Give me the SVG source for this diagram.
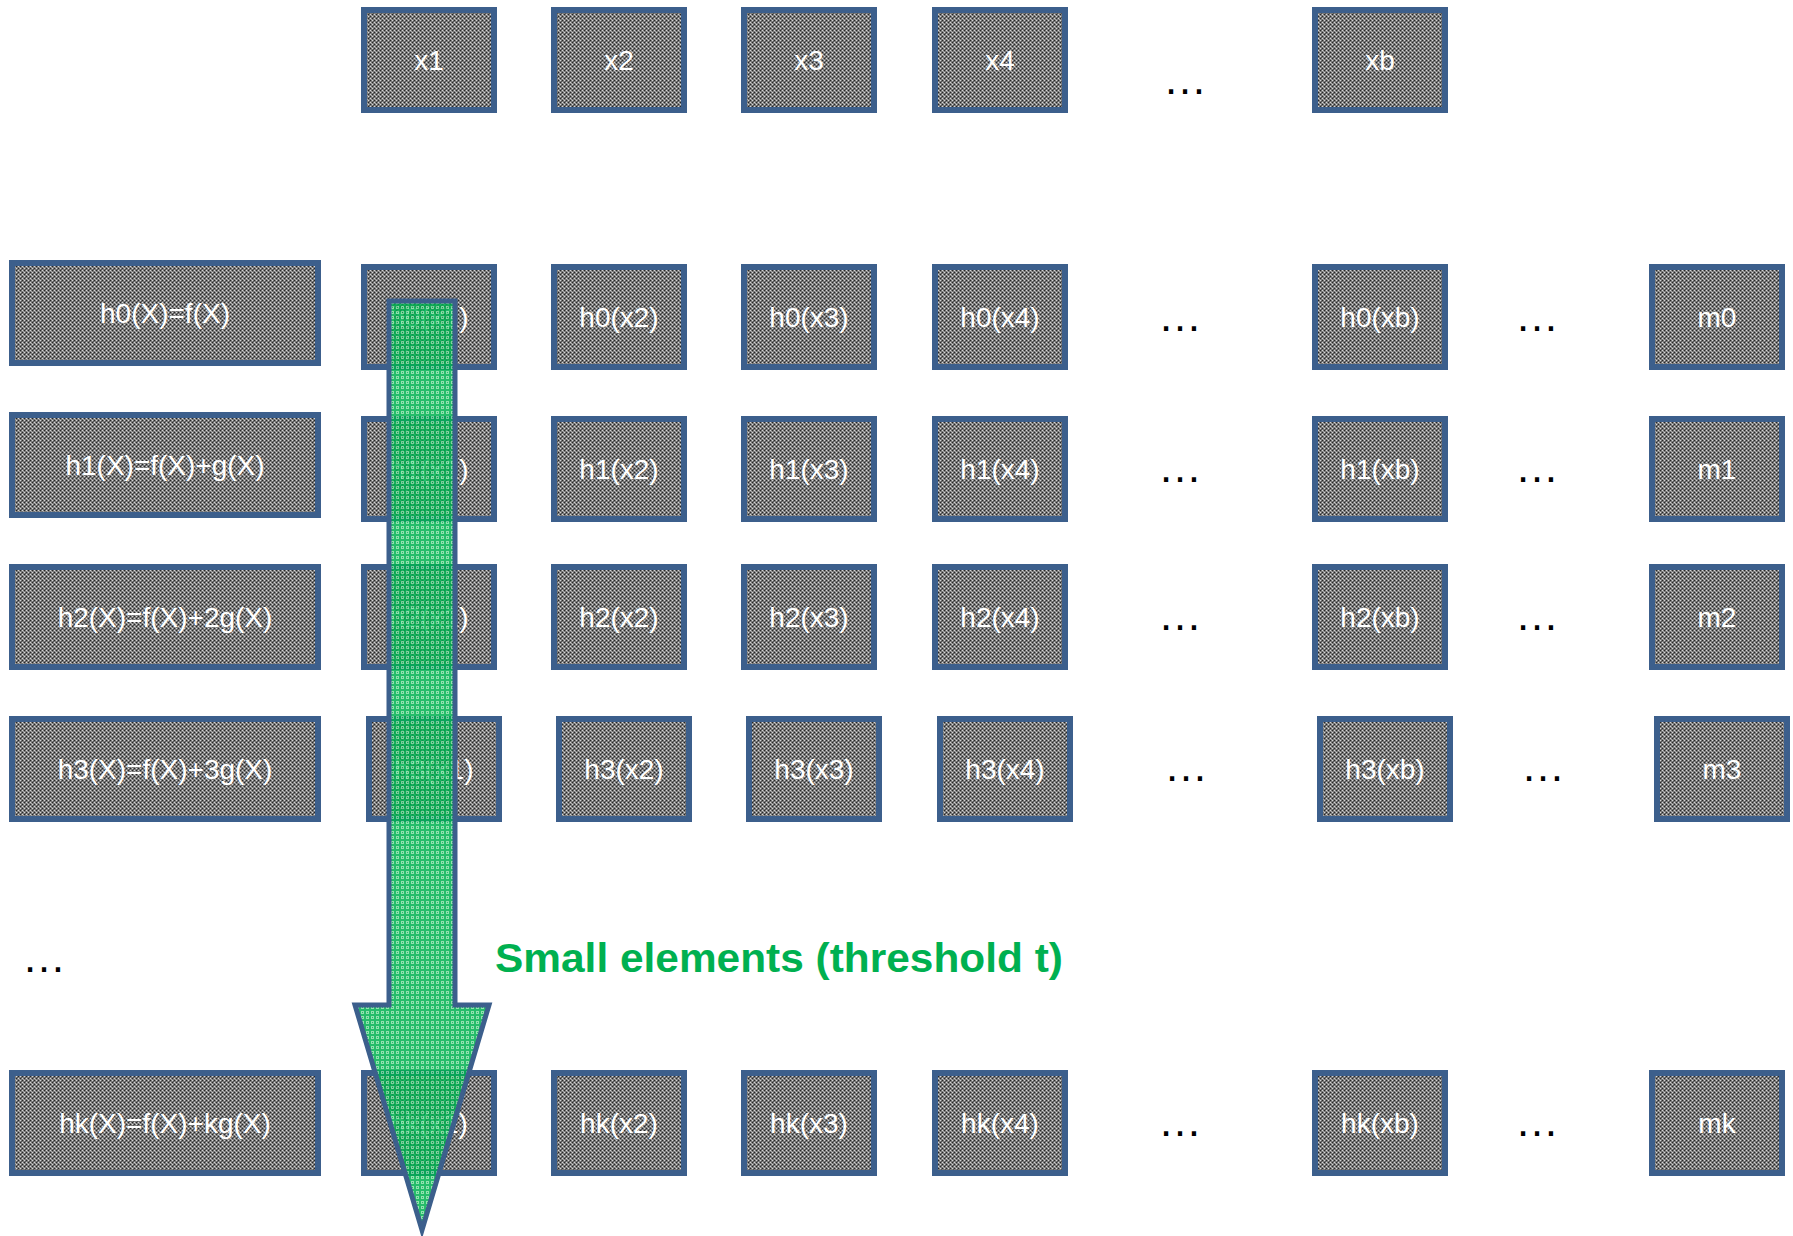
<svg xmlns="http://www.w3.org/2000/svg" width="1793" height="1236" viewBox="0 0 1793 1236">
  <defs>
    <!-- fine stipple fill for the cells -->
    <pattern id="stipple" width="4" height="4" patternUnits="userSpaceOnUse">
      <rect width="4" height="4" fill="#7a7a7a"/>
      <rect x="0" y="0" width="1" height="1" fill="#d6d6d6"/>
      <rect x="2" y="2" width="1" height="1" fill="#d6d6d6"/>
      <rect x="2" y="0" width="1" height="1" fill="#262626"/>
      <rect x="0" y="2" width="1" height="1" fill="#262626"/>
      <rect x="1" y="1" width="1" height="1" fill="#555555"/>
      <rect x="3" y="3" width="1" height="1" fill="#a5a5a5"/>
    </pattern>
    <!-- green cross-hatch for the arrow -->
    <pattern id="hatch" width="5" height="5" patternUnits="userSpaceOnUse">
      <rect width="5" height="5" fill="#00b050"/>
      <rect x="1" y="1" width="3" height="3" fill="#7fdca2"/>
      <rect x="2" y="2" width="1" height="1" fill="#00b050"/>
    </pattern>
  </defs>
  <style>
    .cell { fill: url(#stipple); stroke: #3c5f8c; stroke-width: 6; }
    .lbl { font-family: "Liberation Sans", Arial, sans-serif; font-size: 28px; fill: #ffffff; text-anchor: middle; }
    .dots { font-family: "Liberation Sans", Arial, sans-serif; font-size: 44px; fill: #000000; text-anchor: middle; }
    .note { font-family: "Liberation Sans", Arial, sans-serif; font-size: 41px; font-weight: bold; fill: #00b050; }
  </style>
  <rect width="1793" height="1236" fill="#ffffff"/>

  <!-- input row -->
  <g id="x1"><rect class="cell" x="364" y="10" width="130" height="100"/><text class="lbl" x="429" y="70">x1</text></g>
  <g id="x2"><rect class="cell" x="554" y="10" width="130" height="100"/><text class="lbl" x="619" y="70">x2</text></g>
  <g id="x3"><rect class="cell" x="744" y="10" width="130" height="100"/><text class="lbl" x="809" y="70">x3</text></g>
  <g id="x4"><rect class="cell" x="935" y="10" width="130" height="100"/><text class="lbl" x="1000" y="70">x4</text></g>
  <text class="dots" x="1185" y="94">…</text>
  <g id="xb"><rect class="cell" x="1315" y="10" width="130" height="100"/><text class="lbl" x="1380" y="70">xb</text></g>

  <!-- row h0 -->
  <g id="h0"><rect class="cell" x="12" y="263" width="306" height="100"/><text class="lbl" x="165" y="323">h0(X)=f(X)</text></g>
  <g id="h0x1"><rect class="cell" x="364" y="267" width="130" height="100"/><text class="lbl" x="429" y="327">h0(x1)</text></g>
  <g id="h0x2"><rect class="cell" x="554" y="267" width="130" height="100"/><text class="lbl" x="619" y="327">h0(x2)</text></g>
  <g id="h0x3"><rect class="cell" x="744" y="267" width="130" height="100"/><text class="lbl" x="809" y="327">h0(x3)</text></g>
  <g id="h0x4"><rect class="cell" x="935" y="267" width="130" height="100"/><text class="lbl" x="1000" y="327">h0(x4)</text></g>
  <text class="dots" x="1180" y="331">…</text>
  <g id="h0xb"><rect class="cell" x="1315" y="267" width="130" height="100"/><text class="lbl" x="1380" y="327">h0(xb)</text></g>
  <text class="dots" x="1537" y="331">…</text>
  <g id="m0"><rect class="cell" x="1652" y="267" width="130" height="100"/><text class="lbl" x="1717" y="327">m0</text></g>

  <!-- row h1 -->
  <g id="h1"><rect class="cell" x="12" y="415" width="306" height="100"/><text class="lbl" x="165" y="475">h1(X)=f(X)+g(X)</text></g>
  <g id="h1x1"><rect class="cell" x="364" y="419" width="130" height="100"/><text class="lbl" x="429" y="479">h1(x1)</text></g>
  <g id="h1x2"><rect class="cell" x="554" y="419" width="130" height="100"/><text class="lbl" x="619" y="479">h1(x2)</text></g>
  <g id="h1x3"><rect class="cell" x="744" y="419" width="130" height="100"/><text class="lbl" x="809" y="479">h1(x3)</text></g>
  <g id="h1x4"><rect class="cell" x="935" y="419" width="130" height="100"/><text class="lbl" x="1000" y="479">h1(x4)</text></g>
  <text class="dots" x="1180" y="482">…</text>
  <g id="h1xb"><rect class="cell" x="1315" y="419" width="130" height="100"/><text class="lbl" x="1380" y="479">h1(xb)</text></g>
  <text class="dots" x="1537" y="482">…</text>
  <g id="m1"><rect class="cell" x="1652" y="419" width="130" height="100"/><text class="lbl" x="1717" y="479">m1</text></g>

  <!-- row h2 -->
  <g id="h2"><rect class="cell" x="12" y="567" width="306" height="100"/><text class="lbl" x="165" y="627">h2(X)=f(X)+2g(X)</text></g>
  <g id="h2x1"><rect class="cell" x="364" y="567" width="130" height="100"/><text class="lbl" x="429" y="627">h2(x1)</text></g>
  <g id="h2x2"><rect class="cell" x="554" y="567" width="130" height="100"/><text class="lbl" x="619" y="627">h2(x2)</text></g>
  <g id="h2x3"><rect class="cell" x="744" y="567" width="130" height="100"/><text class="lbl" x="809" y="627">h2(x3)</text></g>
  <g id="h2x4"><rect class="cell" x="935" y="567" width="130" height="100"/><text class="lbl" x="1000" y="627">h2(x4)</text></g>
  <text class="dots" x="1180" y="630">…</text>
  <g id="h2xb"><rect class="cell" x="1315" y="567" width="130" height="100"/><text class="lbl" x="1380" y="627">h2(xb)</text></g>
  <text class="dots" x="1537" y="630">…</text>
  <g id="m2"><rect class="cell" x="1652" y="567" width="130" height="100"/><text class="lbl" x="1717" y="627">m2</text></g>

  <!-- row h3 -->
  <g id="h3"><rect class="cell" x="12" y="719" width="306" height="100"/><text class="lbl" x="165" y="779">h3(X)=f(X)+3g(X)</text></g>
  <g id="h3x1"><rect class="cell" x="369" y="719" width="130" height="100"/><text class="lbl" x="434" y="779">h3(x1)</text></g>
  <g id="h3x2"><rect class="cell" x="559" y="719" width="130" height="100"/><text class="lbl" x="624" y="779">h3(x2)</text></g>
  <g id="h3x3"><rect class="cell" x="749" y="719" width="130" height="100"/><text class="lbl" x="814" y="779">h3(x3)</text></g>
  <g id="h3x4"><rect class="cell" x="940" y="719" width="130" height="100"/><text class="lbl" x="1005" y="779">h3(x4)</text></g>
  <text class="dots" x="1186" y="781">…</text>
  <g id="h3xb"><rect class="cell" x="1320" y="719" width="130" height="100"/><text class="lbl" x="1385" y="779">h3(xb)</text></g>
  <text class="dots" x="1543" y="781">…</text>
  <g id="m3"><rect class="cell" x="1657" y="719" width="130" height="100"/><text class="lbl" x="1722" y="779">m3</text></g>

  <text class="dots" x="44" y="972">…</text>

  <!-- row hk -->
  <g id="hk"><rect class="cell" x="12" y="1073" width="306" height="100"/><text class="lbl" x="165" y="1133">hk(X)=f(X)+kg(X)</text></g>
  <g id="hkx1"><rect class="cell" x="364" y="1073" width="130" height="100"/><text class="lbl" x="429" y="1133">hk(x1)</text></g>
  <g id="hkx2"><rect class="cell" x="554" y="1073" width="130" height="100"/><text class="lbl" x="619" y="1133">hk(x2)</text></g>
  <g id="hkx3"><rect class="cell" x="744" y="1073" width="130" height="100"/><text class="lbl" x="809" y="1133">hk(x3)</text></g>
  <g id="hkx4"><rect class="cell" x="935" y="1073" width="130" height="100"/><text class="lbl" x="1000" y="1133">hk(x4)</text></g>
  <text class="dots" x="1180" y="1136">…</text>
  <g id="hkxb"><rect class="cell" x="1315" y="1073" width="130" height="100"/><text class="lbl" x="1380" y="1133">hk(xb)</text></g>
  <text class="dots" x="1537" y="1136">…</text>
  <g id="mk"><rect class="cell" x="1652" y="1073" width="130" height="100"/><text class="lbl" x="1717" y="1133">mk</text></g>

  <!-- downward arrow over the first column -->
  <g id="connectors">
    <polygon points="389,301 455,301 455,1005 489,1005 422,1230 355,1005 389,1005"
             fill="url(#hatch)" fill-opacity="0.85" stroke="#3c5f8c" stroke-width="5" stroke-linejoin="miter"/>
  </g>

  <text class="note" x="495" y="972" textLength="568" lengthAdjust="spacingAndGlyphs">Small elements (threshold t)</text>
</svg>
